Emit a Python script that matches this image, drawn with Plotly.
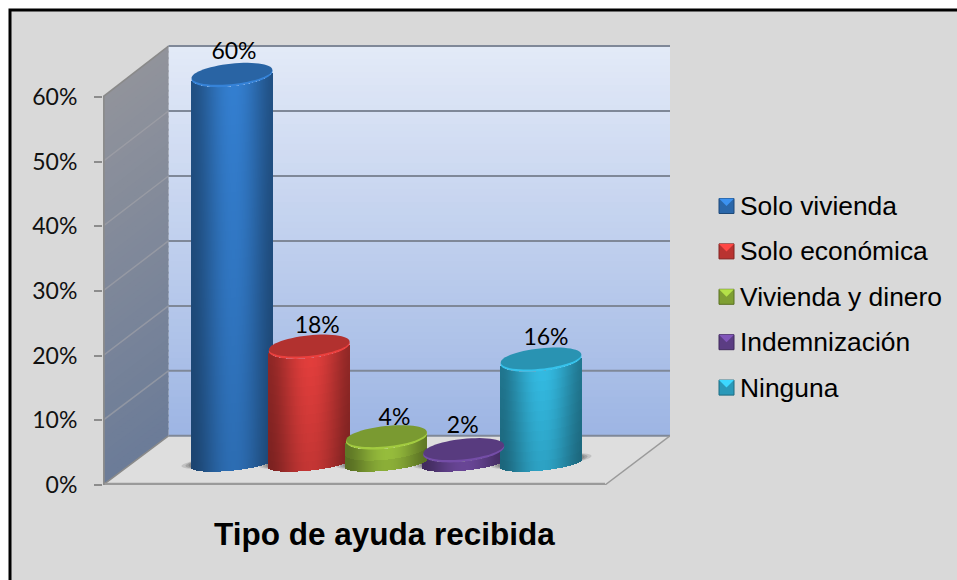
"""
Cylinder column chart with a fake 3D box, built from stacked bars and shapes.
"""

import numpy as np
import plotly.graph_objects as go

categories = ["Solo vivienda", "Solo económica", "Vivienda y dinero", "Indemnización", "Ninguna"]
values = [60, 18, 4, 2, 16]
labels = ["60%", "18%", "4%", "2%", "16%"]
tick_vals = [0, 10, 20, 30, 40, 50, 60]
tick_text = ["0%", "10%", "20%", "30%", "40%", "50%", "60%"]
title = "Tipo de ayuda recibida"

# styling
colors = [(50, 122, 200), (218, 60, 58), (150, 188, 60), (108, 72, 155), (50, 180, 218)]
label_shift = [2, 8, 8, -1, 5]
label_rise = [3.4, 3.1, 2.9, 3.7, 3.2]
draw_order = [0, 1, 3, 2, 4]

W, H = 957, 580
L, R, T, B = 103, 670, 40, 485
PX_Y = 6.47     # pixels per percent
PX_X = 77.25    # pixels per category
X0 = (L - 232) / PX_X
X1 = (R - 232) / PX_X
Y1 = (B - T) / PX_Y

DEPTH_Y = 7.6
DEPTH_X = 65.5 / PX_X
FLOOR_RIGHT = X0 + (605 - L) / PX_X
BASE = 3.3       # cylinder base centre above the front edge
A = 40.5         # cylinder half width, px
CAP_B = 11 / PX_Y
BOTTOM_B = 7 / PX_Y
TILT = 0.1 * PX_X / PX_Y


def wall_y(v):
    return DEPTH_Y + v * 1.004


def scale(c, f):
    return "rgb(%d,%d,%d)" % tuple(min(255, int(x * f)) for x in c)


def mix(a, b, t):
    return "rgb(%d,%d,%d)" % tuple(int(p + (q - p) * t) for p, q in zip(a, b))


def ellipse_path(cx, cy, a, b, tilt):
    t = np.linspace(0, 2 * np.pi, 60)[:-1]
    xs = cx + a * np.cos(t)
    ys = cy + b * np.sin(t) + tilt * a * np.cos(t)
    return "M" + "L".join("%.4f,%.4f" % p for p in zip(xs, ys)) + "Z"


def poly(pts):
    return "M" + "L".join("%.4f,%.4f" % p for p in pts) + "Z"


# paper coordinates run over the plot area, so convert from page pixels
def px_x(x):
    return (x - L) / (R - L)


def px_y(y):
    return (B - y) / (B - T)


shapes = []

# panel background with black frame on top and left
shapes.append(dict(type="rect", xref="paper", yref="paper", x0=px_x(10), x1=px_x(W + 10), y0=px_y(H + 10), y1=px_y(10),
                   fillcolor="#D9D9D9", line=dict(color="black", width=3), layer="below"))

# floor
wall_left = X0 + DEPTH_X
shapes.append(dict(type="path", path=poly([(X0, 0), (FLOOR_RIGHT, 0), (X1, DEPTH_Y), (wall_left, DEPTH_Y)]),
                   fillcolor="#DEDEDE", line=dict(width=0), layer="below"))

# back wall gradient
n_rows = 60
for r in range(n_rows):
    t = r / n_rows
    y0 = wall_y(0) + (wall_y(60) - wall_y(0)) * t
    y1 = wall_y(0) + (wall_y(60) - wall_y(0)) * (r + 1.3) / n_rows
    shapes.append(dict(type="rect", x0=wall_left, x1=X1, y0=y0, y1=min(y1, wall_y(60)),
                       fillcolor=mix((158, 182, 228), (228, 235, 248), t), line=dict(width=0), layer="below"))

# left wall gradient
for r in range(n_rows):
    t = r / n_rows
    t2 = min((r + 1.3) / n_rows, 1)
    shapes.append(dict(type="path",
                       path=poly([(X0, 60 * t), (wall_left, wall_y(60 * t)),
                                  (wall_left, wall_y(60 * t2)), (X0, 60 * t2)]),
                       fillcolor=mix((108, 124, 152), (146, 148, 156), t), line=dict(width=0), layer="below"))

# gridlines on back and left wall
for v in tick_vals:
    edge = "#8A8A8A" if v in (0, 60) else "rgba(165,165,170,0.6)"
    shapes.append(dict(type="line", x0=X0, x1=wall_left, y0=v, y1=wall_y(v),
                       line=dict(color=edge, width=1.5), layer="below"))
    shapes.append(dict(type="line", x0=wall_left, x1=X1, y0=wall_y(v), y1=wall_y(v),
                       line=dict(color="#7F8898", width=2), layer="below"))

# floor edges and axis line
shapes.append(dict(type="line", x0=X0, x1=FLOOR_RIGHT, y0=0.1, y1=0.1, line=dict(color="#9A9A9A", width=3), layer="below"))
shapes.append(dict(type="line", x0=FLOOR_RIGHT, x1=X1, y0=0, y1=DEPTH_Y, line=dict(color="#9A9A9A", width=1.5), layer="below"))
shapes.append(dict(type="line", x0=X0 + 0.01, x1=X0 + 0.01, y0=0, y1=60, line=dict(color="#8C8C8C", width=2), layer="below"))

# floor shadows
for i in range(len(values)):
    for grow, alpha in [(10, 0.25), (6, 0.35), (3, 0.45)]:
        shapes.append(dict(type="path",
                           path=ellipse_path(i, BASE + 0.4, (A + grow) / PX_X, BOTTOM_B * 0.9, TILT),
                           fillcolor="rgba(110,110,110,%s)" % alpha, line=dict(width=0), layer="below"))

fig = go.Figure()

# each cylinder is one Bar trace cut in thin vertical strips
n_strips = 81
offsets = (np.arange(n_strips) + 0.5) / n_strips * 2 - 1
for i in draw_order:
    v = values[i]
    n_seg = max(1, int(v / 1.5))
    xs, bases, ys, cols = [], [], [], []
    for d in offsets:
        dx = d * A / PX_X
        low = BASE - BOTTOM_B * np.sqrt(1 - d * d) + TILT * dx
        cap_low = BASE - CAP_B * np.sqrt(1 - d * d) + TILT * dx
        height = v + cap_low - low     # the lid curve is rounder than the foot
        horiz = 0.66 + 0.38 * max(0.0, np.cos((d - 0.05) * np.pi / 2)) ** 1.5
        for j in range(n_seg):
            vert = 0.86 + 0.14 * (j + 0.5) / n_seg
            xs.append(i + dx)
            bases.append(low + height * j / n_seg)
            ys.append(height / n_seg)
            cols.append(scale(colors[i], horiz * vert))
    fig.add_trace(go.Bar(x=xs, y=ys, base=bases, width=1.8 / PX_X, marker=dict(color=cols, line=dict(width=0)),
                         hoverinfo="skip", showlegend=False))
    # top of the cylinder: light rim and darker lid
    top = BASE + v
    a = A / PX_X
    shapes.append(dict(type="path", path=ellipse_path(i, top, a, CAP_B, TILT),
                       fillcolor=scale(colors[i], 1.08), line=dict(width=0), layer="above"))
    shapes.append(dict(type="path", path=ellipse_path(i, top + 0.25, a * 0.995, CAP_B * 0.93, TILT),
                       fillcolor=scale(colors[i], 0.82), line=dict(width=0), layer="above"))

# value labels
fig.add_trace(go.Scatter(x=[i + label_shift[i] / PX_X for i in range(len(values))],
                         y=[BASE + v + label_rise[i] for i, v in enumerate(values)],
                         mode="text", text=labels, cliponaxis=False,
                         textposition="middle center",
                         textfont=dict(family="Lato", size=23, color="black"),
                         hoverinfo="skip", showlegend=False))

# legend drawn by hand: bevelled square and text
annotations = []
sw = 15
for i, name in enumerate(categories):
    yc = 206 + i * 45.4
    xl = 719
    x_p = [px_x(xl), px_x(xl + sw), px_x(xl + sw / 2)]
    yt, yb, ym = px_y(yc - sw / 2), px_y(yc + sw / 2), px_y(yc)
    shapes.append(dict(type="rect", xref="paper", yref="paper", x0=px_x(xl), x1=px_x(xl + sw), y0=yb, y1=yt,
                       fillcolor=scale(colors[i], 0.85), line=dict(color=scale(colors[i], 0.6), width=1)))
    shapes.append(dict(type="path", xref="paper", yref="paper",
                       path=poly([(x_p[0], yt), (x_p[1], yt), (x_p[2], ym)]),
                       fillcolor=scale(colors[i], 1.2), line=dict(width=0)))
    annotations.append(dict(xref="paper", yref="paper", x=px_x(741), y=px_y(yc), text=name, showarrow=False,
                            xanchor="left", yanchor="middle", xshift=-3,
                            font=dict(family="Liberation Sans", size=26.4, color="black")))

annotations.append(dict(xref="paper", yref="paper", x=px_x(384.5), y=px_y(534), text="<b>%s</b>" % title,
                        showarrow=False, xanchor="center", yanchor="middle",
                        font=dict(family="Liberation Sans", size=31.5, color="black")))

fig.update_layout(
    width=W, height=H, autosize=False,
    margin=dict(l=L, r=W - R, t=T, b=H - B, pad=0),
    paper_bgcolor="white", plot_bgcolor="rgba(0,0,0,0)",
    barmode="overlay", bargap=0, showlegend=False,
    shapes=shapes, annotations=annotations,
    xaxis=dict(range=[X0, X1], showgrid=False, zeroline=False, showticklabels=False, ticks="", showline=False, fixedrange=True),
    yaxis=dict(range=[0, Y1], tickvals=tick_vals, ticktext=tick_text, showgrid=False, zeroline=False, showline=False,
               ticks="outside", ticklen=8, tickwidth=2, tickcolor="#8C8C8C", ticklabelstandoff=12,
               tickfont=dict(family="Lato", size=23, color="#111111"), fixedrange=True),
)

fig.write_html("out.html", config={"displayModeBar": False},
               post_script="document.body.style.margin='0';document.body.style.overflow='hidden';")
